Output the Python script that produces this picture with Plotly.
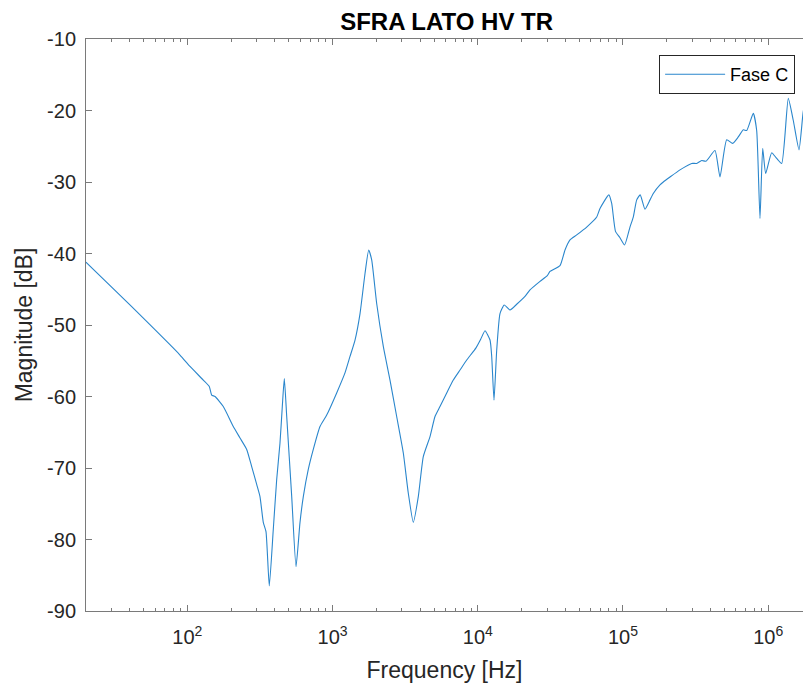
import plotly.graph_objects as go

# Frequency [Hz] and magnitude [dB]
freq_hz = [20.0, 40.2, 88.9, 104.2, 128.7, 141.5, 147.0, 155.0, 176.7, 207.1,
           230.3, 256.1, 277.2, 300.1, 316.2, 333.2, 347.8, 366.4, 390.4, 412.1,
           434.2, 450.4, 465.0, 483.1, 522.9, 559.8, 596.5, 628.5, 680.1, 736.3,
           818.9, 910.8, 1067, 1217, 1318, 1427, 1545, 1672, 1773, 1859,
           2012, 2235, 2485, 2763, 3069, 3321, 3596, 3893, 4214, 4687,
           5073, 5491, 6107, 6781, 7541, 8387, 9719, 10470, 11210, 12140,
           12470, 12930, 13500, 14220, 15220, 16670, 18530, 21140, 22880, 26820,
           30110, 31420, 36820, 39870, 43150, 47990, 56230, 65910, 69440, 79850,
           83600, 88800, 95350, 102600, 111700, 117700, 124300, 131400, 141700, 153500,
           161700, 179800, 189500, 210800, 246900, 297200, 321800, 348300, 372800, 430100,
           465600, 517900, 569500, 622400, 673600, 711100, 789500, 833100, 878000, 916400,
           961100, 1057000, 1144000, 1239000, 1375000, 1489000, 1630000, 1737000, 1820000]
mag_db = [-41.2, -47.2, -54.2, -55.8, -57.7, -58.6, -59.8, -60.0, -61.4, -64.2,
          -65.8, -67.4, -69.8, -72.3, -74.0, -77.6, -78.9, -86.5, -78.6, -71.6,
          -66.5, -61.4, -57.5, -62.8, -74.0, -83.8, -77.6, -74.0, -70.2, -67.4,
          -64.2, -62.6, -59.5, -56.7, -54.4, -52.1, -48.4, -42.8, -39.5, -40.9,
          -47.0, -53.0, -57.7, -62.8, -67.9, -73.5, -77.6, -74.0, -68.4, -65.6,
          -62.8, -61.4, -59.5, -57.7, -56.3, -54.9, -53.2, -52.0, -50.8, -52.1,
          -54.4, -60.5, -53.5, -48.4, -47.2, -47.9, -47.1, -46.0, -45.1, -43.9,
          -43.1, -42.5, -41.7, -39.5, -38.1, -37.4, -36.3, -34.9, -33.7, -31.8,
          -33.0, -36.9, -37.8, -38.8, -36.3, -34.9, -32.5, -31.8, -33.8, -32.5,
          -31.6, -30.4, -30.0, -29.3, -28.3, -27.4, -27.4, -27.0, -27.1, -25.6,
          -29.3, -24.1, -24.6, -23.7, -22.7, -22.8, -20.4, -22.8, -35.1, -25.3,
          -28.8, -25.9, -26.7, -27.4, -18.3, -21.4, -25.5, -20.4, -17.9]

x_tick_vals = [1e2, 1e3, 1e4, 1e5, 1e6]
x_tick_text = ["10<sup>2</sup>", "10<sup>3</sup>", "10<sup>4</sup>", "10<sup>5</sup>", "10<sup>6</sup>"]
x_minor_vals = [m * 10 ** k for k in range(1, 7) for m in range(2, 10)]
y_tick_vals = [-90, -80, -70, -60, -50, -40, -30, -20, -10]
y_tick_text = ["-90", "-80", "-70", "-60", "-50", "-40", "-30", "-20", "-10"]

FONT = "Liberation Sans, Arial, sans-serif"
AX = "#262626"

fig = go.Figure()
fig.add_trace(go.Scatter(
    x=freq_hz, y=mag_db, mode="lines", name="Fase C",
    line=dict(color="#2a86cc", width=1.1, shape="spline", smoothing=0.5),
))

fig.update_layout(
    width=803, height=687,
    margin=dict(l=86, r=0, t=39, b=76),
    paper_bgcolor="white", plot_bgcolor="white",
    font=dict(family=FONT, color=AX),
    title=dict(text="<b>SFRA LATO HV TR</b>", x=0.503, xref="paper", xanchor="center",
               y=1 - 22 / 687, yref="container", yanchor="middle",
               font=dict(size=24, color="black", family=FONT)),
    showlegend=True,
    legend=dict(x=0.989, xanchor="right", y=0.972, yanchor="top",
                bgcolor="white", bordercolor=AX, borderwidth=1,
                font=dict(size=18, color="black", family=FONT),
                itemwidth=60, tracegroupgap=0),
)

fig.update_xaxes(
    type="log", range=[1.3017, 6.2397],
    tickvals=x_tick_vals, ticktext=x_tick_text,
    ticks="inside", ticklen=6, tickwidth=1, tickcolor="#7a7a7a",
    showline=True, linecolor="#7a7a7a", linewidth=1, mirror="ticks",
    showgrid=False, zeroline=False, ticklabelstandoff=8,
    tickfont=dict(size=20, family=FONT, color=AX),
    minor=dict(tickvals=x_minor_vals, ticks="inside", ticklen=3, tickcolor="#7a7a7a", showgrid=False),
    title=dict(text="Frequency [Hz]", font=dict(size=23, family=FONT, color=AX), standoff=14),
)
fig.update_yaxes(
    range=[-90, -10],
    tickvals=y_tick_vals, ticktext=y_tick_text,
    ticks="inside", ticklen=6, tickwidth=1, tickcolor="#7a7a7a",
    showline=True, linecolor="#7a7a7a", linewidth=1, mirror=False,
    showgrid=False, zeroline=False, ticklabelstandoff=5,
    tickfont=dict(size=20, family=FONT, color=AX),
    title=dict(text="Magnitude [dB]", font=dict(size=23, family=FONT, color=AX), standoff=8),
)

fig.write_html("out.html")
